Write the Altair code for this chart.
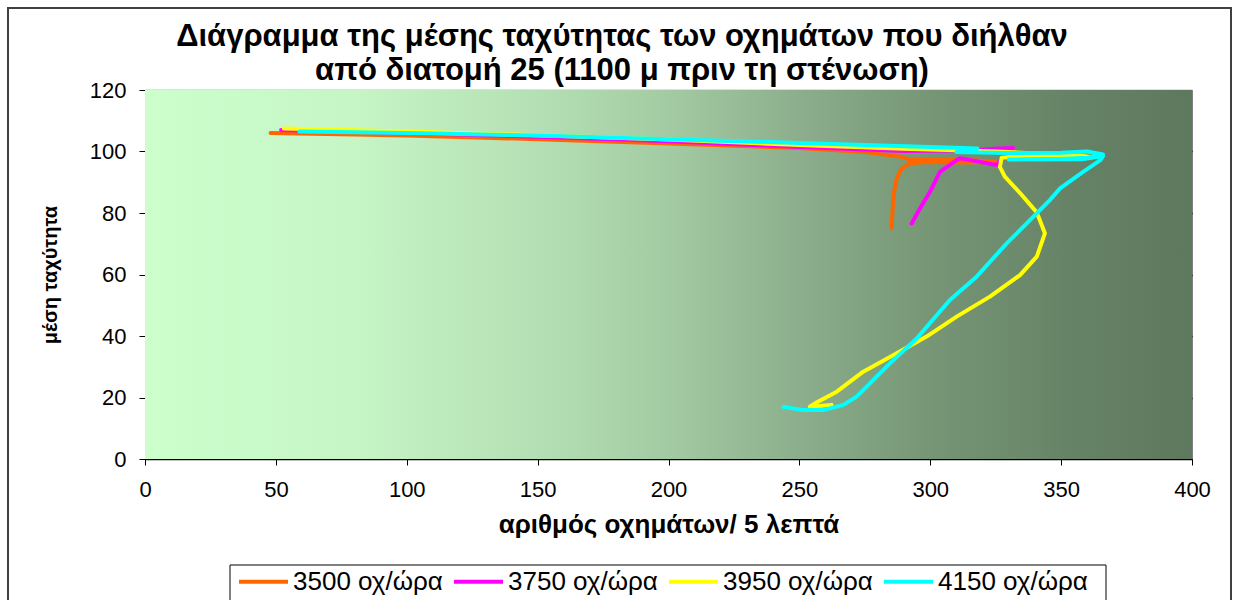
import altair as alt
import pandas as pd

# Mean speed vs. vehicle count (per 5 minutes) at cross-section 25, one trace per demand level
series_names = ["3500 οχ/ώρα", "3750 οχ/ώρα", "3950 οχ/ώρα", "4150 οχ/ώρα"]
series_colors = ["#FF6600", "#FF00FF", "#FFFF00", "#00FFFF"]

flow_3500 = [48, 75, 100, 150, 200, 250, 275, 289.6, 292, 305, 318, 325, 312, 298, 292.3, 289.1, 287.2, 286.2, 285.8, 285.2]
speed_3500 = [106, 105.6, 105.2, 104, 102.6, 101.1, 99.8, 98.2, 97.4, 97.3, 97.1, 96.6, 96.4, 96.6, 96.2, 94.5, 91.3, 86.9, 83.7, 75]

flow_3750 = [52, 100, 150, 200, 250, 290, 310, 319, 326, 331.6, 330, 325.4, 318, 311.4, 310.1, 303.7, 299.9, 296.1, 292.9]
speed_3750 = [107, 106, 104.8, 103.3, 101.5, 100.2, 100.3, 100.6, 101, 101.1, 99.8, 95.6, 96.8, 97.8, 97.2, 93.4, 86.9, 81.5, 76.6]

flow_3950 = [53, 100, 150, 200, 250, 290, 310, 330, 345, 361, 355, 335, 327.3, 326.6, 328.5, 334.3, 340.7, 343.8, 340.7,
             334.3, 322.8, 310.1, 298.6, 287.2, 274.4, 264.3, 256, 254, 262.3]
speed_3950 = [107.5, 106.5, 105.3, 103.9, 102.1, 100.9, 100.4, 99.8, 99.2, 98.3, 98.8, 98.6, 98, 95, 91.8, 86.5, 80.2, 73.4, 65.8,
              59.8, 52.8, 46.3, 39.8, 34.4, 28.4, 21.9, 18.1, 17, 17.6]

flow_4150 = [59, 100, 150, 200, 250, 300, 318, 310, 330, 350, 360, 366, 360, 345, 330, 358, 366, 365, 358.4, 349.6,
             345.7, 329.2, 317.7, 307.5, 294.8, 284.6, 271.9, 266.8, 259.1, 251.5, 243.9]
speed_4150 = [106.5, 106, 105.2, 104, 102.8, 101.5, 101, 99.8, 99.5, 99.6, 100, 99, 98, 97.4, 97.4, 97.5, 98.5, 97.2, 93.4, 88,
              84.2, 70.1, 59.3, 51.7, 39.2, 31.1, 20.3, 17.6, 15.9, 15.9, 17]

x_ticks = [0, 50, 100, 150, 200, 250, 300, 350, 400]
y_ticks = [0, 20, 40, 60, 80, 100, 120]

title_lines = [
    "Διάγραμμα της μέσης ταχύτητας των οχημάτων που διήλθαν",
    "από διατομή 25 (1100 μ πριν τη στένωση)",
]
x_title = "αριθμός οχημάτων/ 5 λεπτά"
y_title = "μέση ταχύτητα"

rows = []
for name, xs, ys in zip(
    series_names,
    [flow_3500, flow_3750, flow_3950, flow_4150],
    [speed_3500, speed_3750, speed_3950, speed_4150],
):
    for i, (fx, sy) in enumerate(zip(xs, ys)):
        rows.append({"series": name, "step": i, "flow": fx, "speed": sy})
df = pd.DataFrame(rows)

FONT = "Liberation Sans"
PLOT_W, PLOT_H = 1047, 369

x_enc = alt.X(
    "flow:Q",
    scale=alt.Scale(domain=[0, 400], nice=False, zero=False),
    axis=alt.Axis(
        values=x_ticks, title=x_title, grid=False, labelFlush=False,
        labelFontSize=22, labelPadding=14, titleFontSize=26, titleFontWeight="bold",
        titlePadding=11, tickSize=6,
    ),
)
y_enc = alt.Y(
    "speed:Q",
    scale=alt.Scale(domain=[0, 120], nice=False),
    axis=alt.Axis(
        values=y_ticks, title=y_title, grid=True, labelFlush=False,
        gridColor=alt.condition("datum.value == 120", alt.value("#808080"), alt.value("#000000")),
        labelFontSize=22, labelPadding=13, titleFontSize=20, titleFontWeight="bold",
        titlePadding=29, tickSize=6,
    ),
)
color_enc = alt.Color(
    "series:N",
    scale=alt.Scale(domain=series_names, range=series_colors),
    legend=alt.Legend(
        title=None, orient="none", legendX=92, legendY=465, direction="horizontal",
        symbolType="stroke", symbolSize=2401, symbolStrokeWidth=4,
        labelFontSize=26, labelFont=FONT, labelOffset=3, columnPadding=3,
        padding=0,
    ),
)

one_row = pd.DataFrame({"k": [0]})

# plot-area background: light green fading to dark grey-green
backdrop = alt.Chart(one_row).mark_rect(
    color=alt.LinearGradient(
        gradient="linear", x1=0, x2=1, y1=0, y2=0,
        stops=[
            alt.GradientStop(offset=0, color="#CCFFCC"),
            alt.GradientStop(offset=0.2, color="#C6F5C6"),
            alt.GradientStop(offset=0.37, color="#B5E0B5"),
            alt.GradientStop(offset=0.5, color="#A3CBA3"),
            alt.GradientStop(offset=0.62, color="#8DAF8D"),
            alt.GradientStop(offset=0.75, color="#769676"),
            alt.GradientStop(offset=0.88, color="#678367"),
            alt.GradientStop(offset=1, color="#5E785E"),
        ],
    )
).encode(x=alt.value(0), x2=alt.value(PLOT_W), y=alt.value(0), y2=alt.value(PLOT_H))

# outer chart frame and the legend box
frame = alt.Chart(one_row).mark_rect(
    filled=False, stroke="#404040", strokeWidth=2
).encode(x=alt.value(-137), x2=alt.value(1086), y=alt.value(-82), y2=alt.value(560))

legend_box = alt.Chart(one_row).mark_rect(
    fill="#FFFFFF", stroke="#000000", strokeWidth=1
).encode(x=alt.value(85), x2=alt.value(961), y=alt.value(475), y2=alt.value(540))

# two-line chart heading
heading = alt.Chart(one_row).mark_text(
    font=FONT, fontSize=31, fontWeight="bold", color="#000000",
    align="center", baseline="middle", lineHeight=34,
).encode(x=alt.value(477), y=alt.value(-53), text=alt.value(title_lines))

layers = [backdrop, frame, legend_box, heading]
for name in series_names:
    layers.append(
        alt.Chart(df)
        .transform_filter(alt.datum.series == name)
        .mark_line(strokeWidth=4, strokeJoin="round", strokeCap="round")
        .encode(x=x_enc, y=y_enc, color=color_enc, order="step:Q")
    )

chart = (
    alt.layer(*layers)
    .properties(
        width=PLOT_W,
        height=PLOT_H,
        autosize=alt.AutoSizeParams(type="none"),
        padding={"left": 145, "top": 90, "right": 42, "bottom": 141},
        background="#FFFFFF",
    )
    .configure_view(stroke="#808080", strokeWidth=1)
    .configure_axis(
        labelFont=FONT, titleFont=FONT, labelColor="#000000", titleColor="#000000",
        domainColor="#000000", tickColor="#000000", gridWidth=1.3,
    )
)

chart.save("out.html", embed_options={"renderer": "svg", "actions": False})
